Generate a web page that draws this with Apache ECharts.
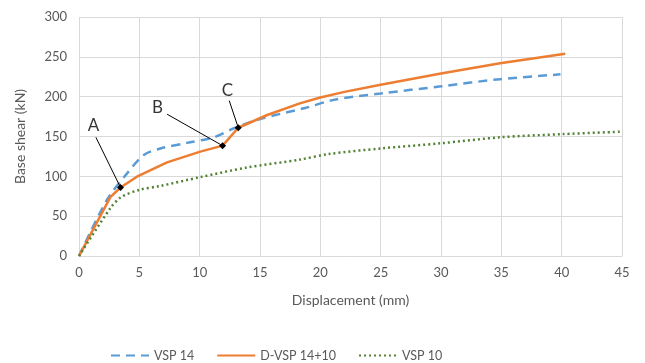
<!DOCTYPE html>
<html>
<head>
<meta charset="utf-8">
<script src="https://cdn.jsdelivr.net/npm/echarts@6/dist/echarts.min.js"></script>
<style>
html,body{margin:0;padding:0;background:#fff;}
#chart{width:645px;height:363px;}
</style>
</head>
<body>
<div id="chart"></div>
<script>
// VSP 14 (dashed blue)
var vsp14X = [0, 2.3, 4.0, 5.4, 6.75, 8.95, 11.2, 12.8, 15.0, 18.9, 21.1, 25, 30, 34.9, 39.9];
var vsp14Y = [0, 70, 104, 127, 135, 142, 149, 160, 172, 186.5, 196, 204, 213, 222, 228];
// D-VSP 14+10 (orange)
var dvspX = [0, 2.6, 3.44, 4.8, 7.3, 10.05, 11.9, 13.2, 15.6, 18.3, 20, 22, 25, 30, 34.9, 40.3];
var dvspY = [0, 74, 86, 99.5, 117.5, 131, 138.5, 161, 177, 191.6, 199, 206, 215, 229, 242, 254];
// VSP 10 (dotted green)
var vsp10X = [0, 2.6, 3.5, 5.0, 6.75, 10.05, 13.9, 18.3, 20.7, 25, 30, 34.9, 40.1, 44.9];
var vsp10Y = [0, 60, 74, 83, 88, 99, 111, 121, 128, 135, 141.5, 149, 153, 156];
// annotation points A, B, C on D-VSP 14+10
var notes = ['A', 'B', 'C'];
var notePoint = [[3.44, 86], [11.9, 138.5], [13.2, 161]];
var noteLabel = [[1.2, 164], [6.5, 186], [12.3, 208]];
var noteStart = [[1.4, 149], [7.3, 178], [12.45, 195]];

function pairs(xs, ys) {
  return xs.map(function (x, i) { return [x, ys[i]]; });
}

var myChart = echarts.init(document.getElementById('chart'));
var txt = '#595959';
var font = 'Lato';

var option = {
  animation: false,
  textStyle: { fontFamily: font },
  grid: { left: 79, right: 23, top: 17, bottom: 107 },
  legend: {
    left: 105,
    top: 344,
    itemWidth: 38,
    itemHeight: 10,
    itemGap: 22,
    itemStyle: { opacity: 0 },
    textStyle: { color: txt, fontSize: 12.5, fontFamily: font },
    data: ['VSP 14', 'D-VSP 14+10', 'VSP 10']
  },
  xAxis: {
    type: 'value',
    min: 0, max: 45, interval: 5,
    name: 'Displacement (mm)',
    nameLocation: 'middle',
    nameGap: 37,
    nameTextStyle: { color: txt, fontSize: 14 },
    axisLine: { show: true, lineStyle: { color: '#d9d9d9' } },
    axisTick: { show: false },
    axisLabel: { color: txt, fontSize: 13, margin: 10 },
    splitLine: { lineStyle: { color: '#d9d9d9' } }
  },
  yAxis: {
    type: 'value',
    min: 0, max: 300, interval: 50,
    name: 'Base shear (kN)',
    nameLocation: 'middle',
    nameGap: 52,
    nameTextStyle: { color: txt, fontSize: 14 },
    axisLine: { show: false },
    axisTick: { show: false },
    axisLabel: { color: txt, fontSize: 13, margin: 12 },
    splitLine: { lineStyle: { color: '#d9d9d9' } }
  },
  series: [
    {
      name: 'VSP 14',
      type: 'line',
      symbol: 'none',
      smooth: 0.3,
      color: '#5B9BD5',
      lineStyle: { width: 2.5, type: [9, 6], color: '#5B9BD5' },
      data: pairs(vsp14X, vsp14Y)
    },
    {
      name: 'D-VSP 14+10',
      type: 'line',
      symbol: 'none',
      color: '#ED7D31',
      lineStyle: { width: 2.5, color: '#ED7D31' },
      data: pairs(dvspX, dvspY),
      z: 3,
      markPoint: {
        symbol: 'diamond',
        symbolSize: 7,
        itemStyle: { color: '#000' },
        label: { show: false },
        data: notePoint.map(function (p) { return { coord: p }; })
      },
      markLine: {
        symbol: 'none',
        silent: true,
        lineStyle: { color: '#000', width: 1, type: 'solid' },
        label: { show: false },
        data: noteStart.map(function (s, i) { return [{ coord: s }, { coord: notePoint[i] }]; })
      }
    },
    {
      name: 'VSP 10',
      type: 'line',
      symbol: 'none',
      smooth: 0.3,
      color: '#548235',
      lineStyle: { width: 2.5, type: [2, 3], color: '#548235' },
      data: pairs(vsp10X, vsp10Y)
    },
    {
      name: 'labels',
      type: 'scatter',
      symbolSize: 0,
      silent: true,
      label: {
        show: true,
        position: 'inside',
        color: '#000',
        fontSize: 17,
        fontFamily: font,
        formatter: function (p) { return notes[p.dataIndex]; }
      },
      data: noteLabel
    }
  ]
};

myChart.setOption(option);
window.addEventListener('resize', function () {
  myChart.resize();
});
</script>
</body>
</html>
